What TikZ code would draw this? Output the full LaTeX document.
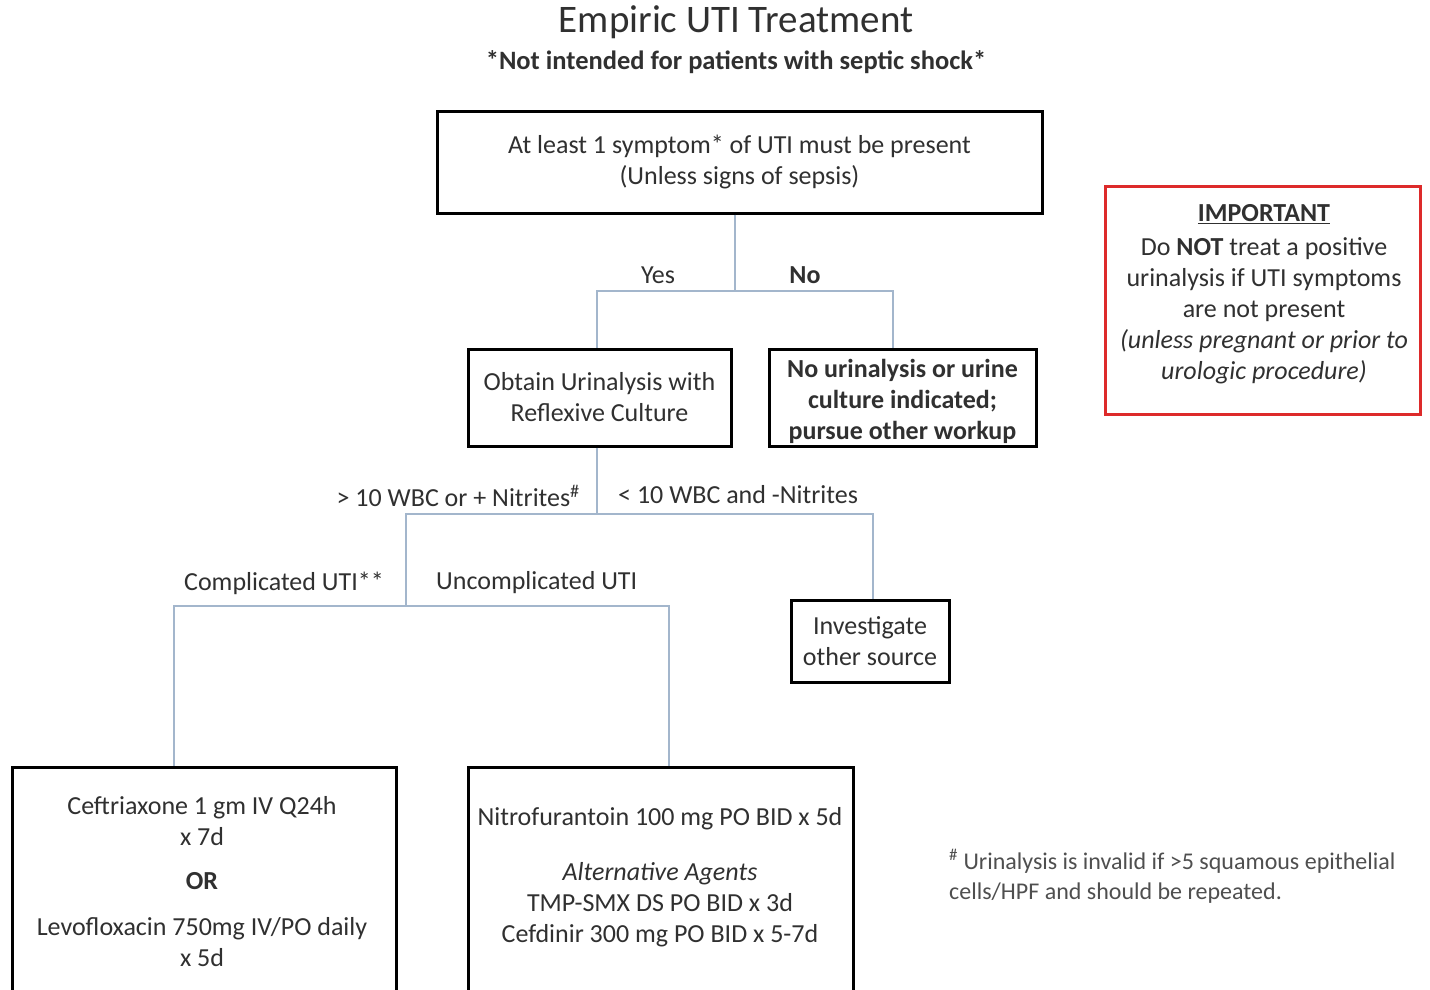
\documentclass[tikz,border=0pt]{standalone}
\usepackage{fontspec}
\setmainfont{Carlito}
\definecolor{txt}{HTML}{303030}
\definecolor{linkc}{HTML}{A3B6CC}
\definecolor{impc}{HTML}{DD2A2A}
\begin{document}
\begin{tikzpicture}[x=1pt,y=-1pt,
  every node/.style={text=txt, font=\fontsize{26}{31}\selectfont, align=center, inner sep=0pt},
  box/.style={draw=black, line width=3pt},
  link/.style={draw=linkc, line width=2pt}]
\useasboundingbox (0,0) rectangle (1430,989);
\clip (0,0) rectangle (1430,989);
\fill[white] (0,0) rectangle (1430,989);

% titles
\node (title) at (736,22) {\fontsize{39}{41}\selectfont Empiric UTI Treatment};
\node (sub) at (736,62) {\fontsize{26.5}{28}\selectfont\bfseries *Not intended for patients with septic shock*};

% boxes
\node[box, minimum width=605pt, minimum height=102pt] (b1) at (739.5,162)
  {At least 1 symptom* of UTI must be present\\(Unless signs of sepsis)};
\node[box, minimum width=263pt, minimum height=97pt] (b2) at (599.5,397.5)
  {Obtain Urinalysis with\\Reflexive Culture};
\node[box, minimum width=267pt, minimum height=97pt] (b3) at (902.5,397.5) {};
\node[font=\fontsize{26}{31}\selectfont\bfseries] (b3t) at (902.5,401)
  {No urinalysis or urine\\culture indicated;\\pursue other workup};
\node[box, minimum width=158pt, minimum height=82pt] (inv) at (870,641)
  {Investigate\\other source};
\node[box, minimum width=384pt, minimum height=233pt] (cef) at (204,883.5) {};
\node (ceft) at (202,881.5) {Ceftriaxone 1 gm IV Q24h\\x 7d\\[13pt]\textbf{OR}\\[15pt]Levofloxacin 750mg IV/PO daily\\x 5d};
\node[box, minimum width=385pt, minimum height=233pt] (nit) at (660.5,883.5) {};
\node (nitt) at (660,877) {Nitrofurantoin 100 mg PO BID x 5d\\[24pt]\textit{Alternative Agents}\\TMP-SMX DS PO BID x 3d\\Cefdinir 300 mg PO BID x 5-7d};

% important box
\node[draw=impc, line width=3pt, minimum width=315pt, minimum height=228pt] (imp) at (1262.5,300) {};
\node (impt) at (1264,294) {\textbf{\underline{IMPORTANT}}\\[3pt]Do \textbf{NOT} treat a positive\\urinalysis if UTI symptoms\\are not present\\\textit{(unless pregnant or prior to}\\\textit{urologic procedure)}};

% footnote
\node[anchor=west, align=left, text=txt!85, font=\fontsize{24}{30}\selectfont] (foot) at (949,876)
  {\textsuperscript{\#} Urinalysis is invalid if >5 squamous epithelial\\cells/HPF and should be repeated.};

% connectors
\coordinate (j1) at (735,291);
\coordinate (j1l) at (597,291);
\coordinate (j1r) at (893,291);
\coordinate (j2) at (597,514);
\coordinate (j2l) at (406,514);
\coordinate (j2r) at (873,514);
\coordinate (j3) at (406,606);
\coordinate (j3l) at (174,606);
\coordinate (j3r) at (669,606);
\draw[link] (b1.south -| j1) -- (j1);
\draw[link] (j1l |- b2.north) -- (j1l) -- (j1r) -- (j1r |- b3.north);
\draw[link] (b2.south -| j2) -- (j2);
\draw[link] (j3) -- (j2l) -- (j2r) -- (j2r |- inv.north);
\draw[link] (j3l |- cef.north) -- (j3l) -- (j3r) -- (j3r |- nit.north);

% labels
\node (yes) at (658,275) {Yes};
\node (no) at (805,275) {\textbf{No}};
\node[anchor=east] (pos) at (580,496) {> 10 WBC or + Nitrites\textsuperscript{\#}};
\node[anchor=west] (neg) at (618,495) {< 10 WBC and -Nitrites};
\node[anchor=east] (comp) at (384,583) {Complicated UTI**};
\node[anchor=west] (unc) at (436,583) {Uncomplicated UTI};
\end{tikzpicture}
\end{document}
